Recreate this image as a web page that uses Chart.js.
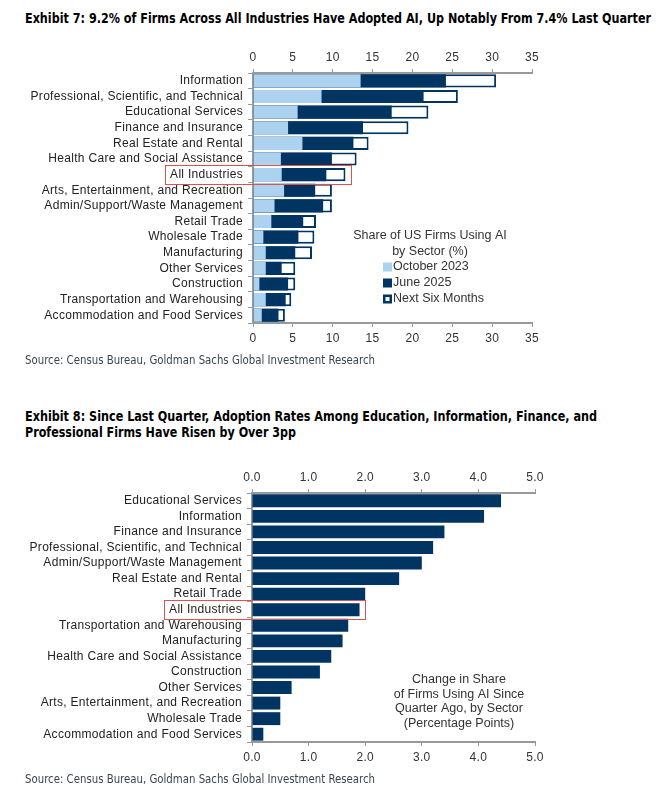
<!DOCTYPE html>
<html>
<head>
<meta charset="utf-8">
<script src="https://cdn.jsdelivr.net/npm/chart.js@4.4.1/dist/chart.umd.min.js"></script>
<style>
  body { margin:0; background:#fff; width:667px; height:808px; position:relative; overflow:hidden; font-family:"Liberation Sans", Arial, sans-serif; }
  .title { position:absolute; left:25px; font-family:"Liberation Sans Narrow","DejaVu Sans Condensed",sans-serif; font-stretch:condensed; font-weight:bold; font-size:14.5px; color:#000; line-height:20px; white-space:nowrap; transform-origin:0 50%; }
  .source { position:absolute; left:25px; font-family:"Liberation Sans Narrow","DejaVu Sans Condensed",sans-serif; font-stretch:condensed; font-size:12px; color:#3d4450; white-space:nowrap; transform-origin:0 50%; line-height:16px; }
  .wrap { position:absolute; left:0; width:667px; }
</style>
</head>
<body>
<div class="title fit" data-w="626" style="top:8px">Exhibit 7: 9.2% of Firms Across All Industries Have Adopted AI, Up Notably From 7.4% Last Quarter</div>
<div class="wrap" style="top:40px;height:315px"><canvas id="c1"></canvas></div>
<div class="source fit" data-w="350" style="top:352px">Source: Census Bureau, Goldman Sachs Global Investment Research</div>

<div class="title fit" data-w="572" style="top:408px;line-height:16px">Exhibit 8: Since Last Quarter, Adoption Rates Among Education, Information, Finance, and</div>
<div class="title fit" data-w="271" style="top:424px;line-height:16px">Professional Firms Have Risen by Over 3pp</div>
<div class="wrap" style="top:462px;height:310px"><canvas id="c2"></canvas></div>
<div class="source fit" data-w="350" style="top:771px">Source: Census Bureau, Goldman Sachs Global Investment Research</div>

<script>
// ---- data ----
const sectors1 = ['Information', 'Professional, Scientific, and Technical', 'Educational Services',
  'Finance and Insurance', 'Real Estate and Rental', 'Health Care and Social Assistance', 'All Industries',
  'Arts, Entertainment, and Recreation', 'Admin/Support/Waste Management', 'Retail Trade', 'Wholesale Trade',
  'Manufacturing', 'Other Services', 'Construction', 'Transportation and Warehousing', 'Accommodation and Food Services'];
const oct2023 = [13.5, 8.6, 5.6, 4.4, 6.2, 3.5, 3.6, 3.9, 2.7, 2.3, 1.3, 1.6, 1.6, 0.8, 1.6, 1.1];
const jun2025 = [24.2, 21.4, 17.4, 13.8, 12.6, 9.9, 9.2, 7.8, 8.8, 6.3, 5.7, 5.3, 3.6, 4.4, 4.1, 3.2];
const next6m  = [30.5, 25.7, 22.0, 19.5, 14.5, 13.0, 11.6, 9.9, 9.9, 7.9, 7.7, 7.4, 5.3, 5.3, 4.8, 4.0];
const seriesNames = ['October 2023', 'June 2025', 'Next Six Months'];
const legendTitle1 = ['Share of US Firms Using AI', 'by Sector (%)'];

const sectors2 = ['Educational Services', 'Information', 'Finance and Insurance',
  'Professional, Scientific, and Technical', 'Admin/Support/Waste Management', 'Real Estate and Rental',
  'Retail Trade', 'All Industries', 'Transportation and Warehousing', 'Manufacturing',
  'Health Care and Social Assistance', 'Construction', 'Other Services', 'Arts, Entertainment, and Recreation',
  'Wholesale Trade', 'Accommodation and Food Services'];
const qoqChange = [4.4, 4.1, 3.4, 3.2, 3.0, 2.6, 2.0, 1.9, 1.7, 1.6, 1.4, 1.2, 0.7, 0.5, 0.5, 0.2];
const note2 = ['Change in Share', 'of Firms Using AI Since', 'Quarter Ago, by Sector', '(Percentage Points)'];

const highlight = 'All Industries';

// ---- styles ----
const NAVY = '#003462';
const LIGHT = '#acd2f0';
const AXIS = '#999999';
const FONT = { family: '"Liberation Sans", Arial, sans-serif', size: 12 };
const TXT = '#333333';
const SPACING = '0.3px';

// fit heading/source lines to the reference widths
document.querySelectorAll('.fit').forEach(el => {
  const w = el.getBoundingClientRect().width;
  el.style.transform = 'scaleX(' + (el.dataset.w / w) + ')';
});

// the reference's axis text is loosely spaced
const spacing = {
  id: 'spacing',
  beforeDraw(chart) { chart.ctx.letterSpacing = SPACING; }
};

const highlightBox = {
  id: 'highlightBox',
  afterDraw(chart) {
    const { ctx, scales } = chart;
    const y = scales.y;
    const idx = y.getLabels().indexOf(highlight);
    if (idx < 0) return;
    let maxV = 0;
    chart.data.datasets.forEach(ds => { maxV = Math.max(maxV, ds.data[idx]); });
    ctx.save();
    ctx.letterSpacing = SPACING;
    ctx.font = FONT.size + 'px ' + FONT.family;
    const labelW = ctx.measureText(highlight).width;
    const left = y.right - 10 - labelW - 5;
    const right = scales.x.getPixelForValue(maxV) + 6;
    const band = (y.bottom - y.top) / y.getLabels().length;
    const cy = y.getPixelForValue(idx);
    ctx.strokeStyle = '#d9534f';
    ctx.lineWidth = 1;
    ctx.strokeRect(Math.round(left) + 0.5, Math.round(cy - band / 2 - 1.5) + 0.5,
      Math.round(right - left), Math.round(band + 3));
    ctx.restore();
  }
};

const insideLegend = {
  id: 'insideLegend',
  afterDraw(chart, args, o) {
    if (!o.show) return;
    const { ctx, chartArea } = chart;
    ctx.save();
    ctx.letterSpacing = '0px';
    ctx.font = '12.5px ' + FONT.family;
    ctx.fillStyle = TXT;
    ctx.textBaseline = 'middle';
    ctx.textAlign = 'center';
    o.title.forEach((t, i) => ctx.fillText(t, chartArea.left + o.titleX, chartArea.top + o.titleY + i * o.lh));
    if (o.items) {
      ctx.textAlign = 'left';
      chart.data.datasets.forEach((ds, i) => {
        const bx = chartArea.left + o.itemX;
        const by = chartArea.top + o.itemY + i * o.ih;
        if (ds.borderWidth) {
          ctx.fillStyle = ds.borderColor;
          ctx.fillRect(bx, by - 4.5, 9, 9);
          ctx.fillStyle = '#fff';
          ctx.fillRect(bx + 2.5, by - 2, 4, 4);
        } else {
          ctx.fillStyle = ds.backgroundColor;
          ctx.fillRect(bx, by - 4.5, 9, 9);
        }
        ctx.fillStyle = TXT;
        ctx.fillText(ds.label, bx + 10, by);
      });
    }
    ctx.restore();
  }
};

function xAxis(pos, max, h, fmt) {
  return {
    type: 'linear', position: pos, min: 0, max: max,
    afterFit: s => { s.height = h; },
    ticks: { stepSize: max === 35 ? 5 : 1, color: TXT, font: FONT, padding: 4, callback: fmt },
    grid: { drawOnChartArea: false, drawTicks: true, tickLength: 4, color: AXIS, lineWidth: 1 },
    border: { display: true, color: AXIS, width: 2 }
  };
}
function yAxis(w) {
  return {
    type: 'category',
    afterFit: s => { s.width = w; },
    ticks: { color: '#222', font: FONT, padding: 5, autoSkip: false },
    grid: { drawOnChartArea: false, drawTicks: true, tickLength: 5, color: AXIS, offset: true },
    border: { display: true, color: AXIS, width: 2 }
  };
}

new Chart(document.getElementById('c1'), {
  type: 'bar',
  data: {
    labels: sectors1,
    datasets: [
      { label: seriesNames[0], data: oct2023, backgroundColor: LIGHT, borderWidth: 0 },
      { label: seriesNames[1], data: jun2025, backgroundColor: NAVY, borderWidth: 0 },
      { label: seriesNames[2], data: next6m, backgroundColor: '#ffffff', borderColor: NAVY, borderWidth: 2, borderSkipped: false }
    ]
  },
  options: {
    indexAxis: 'y', responsive: true, maintainAspectRatio: false, animation: false,
    layout: { padding: { left: 0, right: 135, top: 0, bottom: 0 } },
    datasets: { bar: { grouped: false, categoryPercentage: 1, barPercentage: 0.84 } },
    scales: {
      x: xAxis('top', 35, 33),
      x2: xAxis('bottom', 35, 32),
      y: yAxis(253)
    },
    plugins: {
      legend: { display: false }, tooltip: { enabled: false },
      insideLegend: { show: true, title: legendTitle1, titleX: 177, titleY: 163, lh: 15.5, items: true, itemX: 130, itemY: 194, ih: 16 }
    }
  },
  plugins: [spacing, highlightBox, insideLegend]
});

const fmt1 = v => Number(v).toFixed(1);
new Chart(document.getElementById('c2'), {
  type: 'bar',
  data: {
    labels: sectors2,
    datasets: [{ label: 'Change', data: qoqChange, backgroundColor: NAVY, borderWidth: 0 }]
  },
  options: {
    indexAxis: 'y', responsive: true, maintainAspectRatio: false, animation: false,
    layout: { padding: { left: 0, right: 132, top: 0, bottom: 0 } },
    datasets: { bar: { categoryPercentage: 1, barPercentage: 0.83 } },
    scales: {
      x: xAxis('top', 5, 31, fmt1),
      x2: xAxis('bottom', 5, 30, fmt1),
      y: yAxis(252)
    },
    plugins: {
      legend: { display: false }, tooltip: { enabled: false },
      insideLegend: { show: true, title: note2, titleX: 207, titleY: 187, lh: 14.4, items: false }
    }
  },
  plugins: [spacing, highlightBox, insideLegend]
});
</script>
</body>
</html>
